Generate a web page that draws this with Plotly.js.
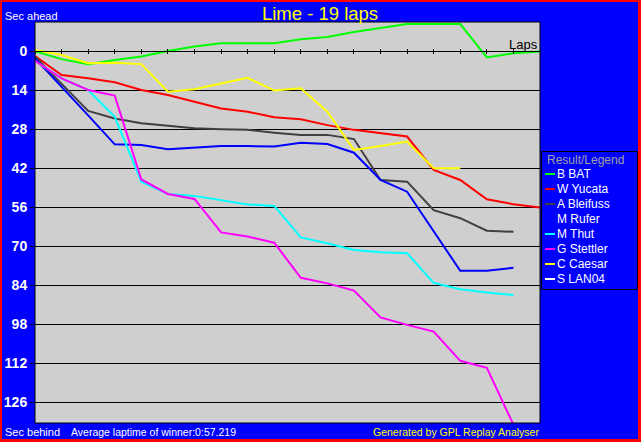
<!DOCTYPE html>
<html>
<head>
<meta charset="utf-8">
<script src="https://cdn.plot.ly/plotly-3.0.1.min.js"></script>
<style>
html,body{margin:0;padding:0;background:#ff0000;width:641px;height:442px;overflow:hidden;}
#chart{position:absolute;left:2px;top:2px;width:636px;height:437px;}
</style>
</head>
<body>
<div id="chart"></div>
<script>
// ---- data ----
const laps = [0,1,2,3,4,5,6,7,8,9,10,11,12,13,14,15,16,17,18,19];
const driverNames = ["B BAT","W Yucata","A Bleifuss","M Rufer","M Thut","G Stettler","C Caesar","S LAN04"];
const driverColors = ["#00ff00","#ff0000","#404040","#0000ff","#00ffff","#ff00ff","#ffff00","#ffffff"];
const bat      = [0, 2.8, 4.6, 3.1, 1.9, -0.1, -1.7, -2.9, -2.9, -2.9, -4.3, -5.1, -6.9, -8.3, -9.8, -9.8, -9.8, 2.2, 0.7, 0.1];
const yucata   = [1.7, 8.5, 9.7, 11.1, 13.9, 15.7, 18.1, 20.5, 21.7, 23.7, 24.4, 26.5, 28.2, 29.4, 30.6, 42.6, 46.2, 53.1, 54.9, 56.1];
const bleifuss = [1.9, 11.5, 21.4, 24.1, 25.8, 26.7, 27.6, 28.0, 28.2, 29.2, 30.0, 30.0, 31.5, 46.2, 46.8, 57.0, 59.9, 64.4, 64.8];
const rufer    = [2.5, 12.6, 23.0, 33.4, 33.6, 35.2, 34.5, 34.0, 34.0, 34.2, 32.8, 33.3, 36.4, 46.2, 50.4, 64.6, 78.8, 78.8, 77.7];
const thut     = [3.4, 9.7, 13.9, 23.5, 46.8, 51.2, 51.9, 53.4, 55.0, 55.5, 66.8, 68.9, 71.3, 72.1, 72.5, 83.1, 85.4, 86.6, 87.5];
const stettler = [3.4, 9.7, 13.9, 15.9, 46.0, 51.2, 53.0, 65.0, 66.5, 68.7, 81.3, 83.3, 85.9, 95.5, 98.2, 100.6, 111.1, 113.6, 134];
const caesar   = [-0.5, 1.3, 4.3, 4.1, 4.6, 14.5, 13.6, 11.5, 9.5, 14.1, 13.3, 21.7, 35.4, 34.0, 32.4, 42.0, 42.0];
const lan04    = [];
const series = [bat, yucata, bleifuss, rufer, thut, stettler, caesar, lan04];
const yTickStep = 14;
const chartTitle = "Lime - 19 laps";
const avgText = "Average laptime of winner:0:57.219";

// ---- layout helpers ----
const M = {l:33, r:98, t:20, b:16};
const PW = 636 - M.l - M.r, PH = 437 - M.t - M.b;
const px = x => (x - 2 - M.l) / PW;
const py = y => 1 - (y - 2 - M.t) / PH;
const yTop = -10.52, yBot = 133.43;
const zeroPos = yBot / (yBot - yTop);
const FONT = "Liberation Sans, Arial, sans-serif";

const traces = series.map((s, i) => ({
  type: "scatter", mode: "lines",
  x: laps.slice(0, s.length), y: s,
  name: driverNames[i],
  line: {color: driverColors[i], width: 2},
  showlegend: false, hoverinfo: "skip"
}));
traces.push({type:"scatter", x:[], y:[], xaxis:"x2", yaxis:"y", showlegend:false});

const shapes = [
  {type:"rect", xref:"paper", yref:"paper", x0:0, x1:1, y0:0, y1:1,
   line:{color:"#000", width:1}, fillcolor:"rgba(0,0,0,0)", layer:"above"},
  {type:"rect", xref:"paper", yref:"paper", x0:px(541.5), x1:px(637.5), y0:py(289.5), y1:py(151.5),
   line:{color:"#000", width:1}, fillcolor:"#0000ff", layer:"above"}
];
const annotations = [
  {text:"Sec ahead", xref:"paper", yref:"paper", x:px(2.5), y:py(15.5), xanchor:"left", yanchor:"middle",
   showarrow:false, font:{family:FONT, size:11, color:"#fff"}},
  {text:"Laps", xref:"paper", yref:"paper", x:px(539.5), y:py(44.5), xanchor:"right", yanchor:"middle",
   showarrow:false, font:{family:FONT, size:13, color:"#000"}},
  {text:"Sec behind", xref:"paper", yref:"paper", x:px(3), y:py(431.5), xanchor:"left", yanchor:"middle",
   showarrow:false, font:{family:FONT, size:11, color:"#fff"}},
  {text:avgText, xref:"paper", yref:"paper", x:px(69), y:py(431.5), xanchor:"left", yanchor:"middle",
   showarrow:false, font:{family:FONT, size:10.5, color:"#fff"}},
  {text:"Generated by GPL Replay Analyser", xref:"paper", yref:"paper", x:px(541), y:py(431.5), xanchor:"right", yanchor:"middle",
   showarrow:false, font:{family:FONT, size:10.5, color:"#ffff00"}},
  {text:"Result/Legend", xref:"paper", yref:"paper", x:px(545), y:py(159.5), xanchor:"left", yanchor:"middle",
   showarrow:false, font:{family:FONT, size:12, color:"#a0a0a0"}}
];
driverNames.forEach((n, i) => {
  const yy = 174 + 15 * i;
  shapes.push({type:"line", xref:"paper", yref:"paper", x0:px(545), x1:px(555), y0:py(yy), y1:py(yy),
    line:{color:driverColors[i], width:2}, layer:"above"});
  annotations.push({text:n, xref:"paper", yref:"paper", x:px(555), y:py(yy + 0.3), xanchor:"left", yanchor:"middle",
    showarrow:false, font:{family:FONT, size:12, color:"#fff"}});
});

const layout = {
  width:636, height:437, margin:M,
  paper_bgcolor:"#0000ff", plot_bgcolor:"#cfcfcf",
  font:{family:FONT},
  showlegend:false,
  title:{text:chartTitle, font:{family:FONT, size:18.5, color:"#ffff00"},
         xref:"container", x:0.5, xanchor:"center", yref:"container", y:1-(13.5-2)/437, yanchor:"middle"},
  xaxis:{range:[0,19], anchor:"free", position:zeroPos, showline:true, linecolor:"#000", linewidth:1,
         ticks:"outside", ticklen:2, tickcolor:"#000", tickwidth:1, tick0:0, dtick:1,
         showticklabels:false, showgrid:false, zeroline:false, fixedrange:true},
  xaxis2:{range:[0,19], overlaying:"x", matches:"x", anchor:"free", position:zeroPos, showline:false,
         ticks:"inside", ticklen:2, tickcolor:"#000", tickwidth:1, tick0:0, dtick:1,
         showticklabels:false, showgrid:false, zeroline:false},
  yaxis:{range:[yBot, yTop], tick0:0, dtick:yTickStep, showgrid:true, gridcolor:"#000", gridwidth:1,
         ticks:"outside", ticklen:4, tickcolor:"#000", zeroline:false, showline:false,
         tickfont:{family:FONT, size:14, color:"#fff", weight:"bold"}, fixedrange:true},
  shapes:shapes, annotations:annotations
};
Plotly.newPlot("chart", traces, layout, {staticPlot:true, displayModeBar:false});
</script>
</body>
</html>
